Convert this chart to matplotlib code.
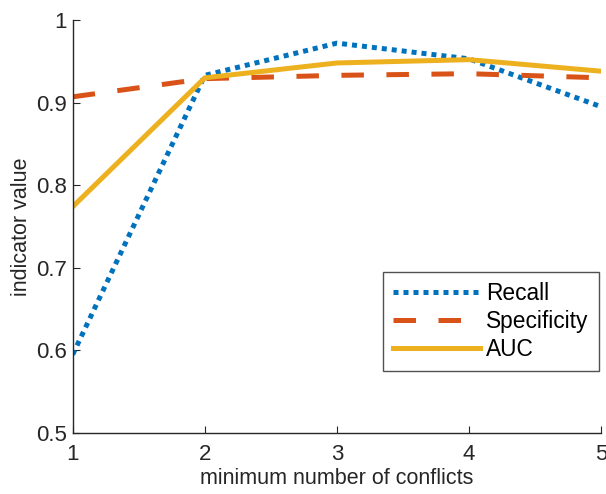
import numpy as np
import matplotlib.pyplot as plt

plt.rcParams['font.family'] = ['Liberation Sans', 'DejaVu Sans']

min_conflicts = [1, 2, 3, 4, 5]
recall = [0.595, 0.933, 0.972, 0.953, 0.895]
specificity = [0.907, 0.929, 0.933, 0.935, 0.930]
auc = [0.774, 0.930, 0.948, 0.952, 0.938]

fig = plt.figure(figsize=(6.06, 4.94), dpi=100)
ax = fig.add_axes([0.120, 0.1235, 0.872, 0.836])

ax.plot(min_conflicts, recall, color='#0072BD', linestyle=(0, (1, 1)), linewidth=3.6, label='Recall')
ax.plot(min_conflicts, specificity, color='#D95319', linestyle=(0, (4.5, 4.5)), linewidth=3.6, label='Specificity')
ax.plot(min_conflicts, auc, color='#EDB120', linestyle='-', linewidth=3.6, label='AUC')

ax.set_xlim(1, 5)
ax.set_ylim(0.5, 1)
ax.set_xticks([1, 2, 3, 4, 5])
ax.set_yticks([0.5, 0.6, 0.7, 0.8, 0.9, 1])
ax.set_yticklabels(['0.5', '0.6', '0.7', '0.8', '0.9', '1'])

for s in ['top', 'right']:
    ax.spines[s].set_visible(False)
for s in ['left', 'bottom']:
    ax.spines[s].set_color('#262626')
    ax.spines[s].set_linewidth(1.0)

ax.tick_params(direction='in', length=5, colors='#262626', labelsize=16)
ax.tick_params(axis='x', pad=8)
ax.tick_params(axis='y', pad=4)
ax.set_xlabel('minimum number of conflicts', fontsize=15.5, color='#262626', labelpad=2)
ax.set_ylabel('indicator value', fontsize=15.5, color='#262626', labelpad=3)

leg = ax.legend(loc='lower right', bbox_to_anchor=(0.996, 0.15), fontsize=16.4, frameon=True,
                fancybox=False, edgecolor='#262626', handlelength=3.8, borderpad=0.45,
                labelspacing=0.22, handletextpad=0.3, borderaxespad=0)
leg.get_frame().set_linewidth(1.0)

fig.savefig('out.png', dpi=100)
